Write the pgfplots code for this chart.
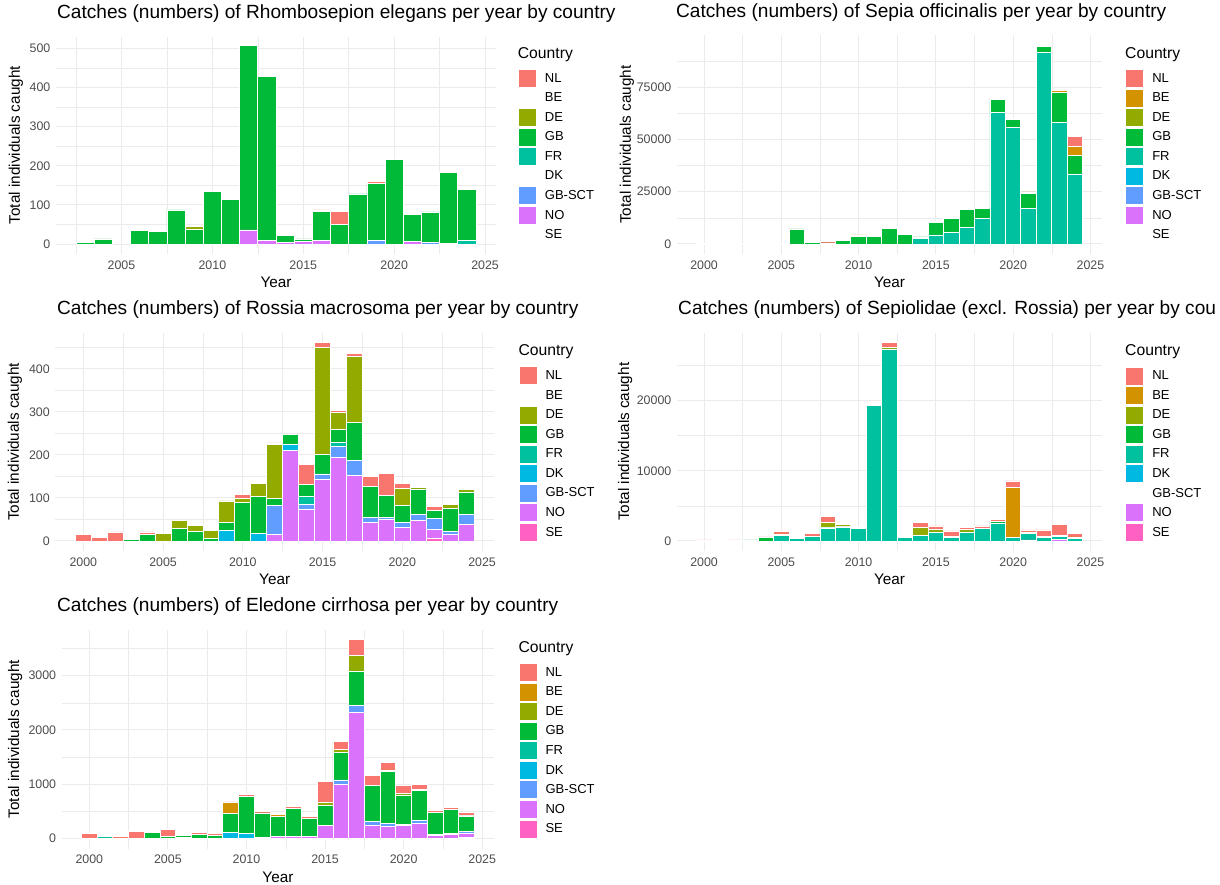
\documentclass[border=0pt]{standalone}
\usepackage{pgfplots}
\usepackage{pgfplotstable}
\pgfplotsset{compat=1.18}
\usepackage{fontspec}
\setmainfont{Liberation Sans}
\newcommand\fs[1]{\fontsize{#1}{#1}\selectfont}
\definecolor{cNL}{HTML}{F8766D}
\definecolor{cBE}{HTML}{D39200}
\definecolor{cDE}{HTML}{93AA00}
\definecolor{cGB}{HTML}{00BA38}
\definecolor{cFR}{HTML}{00C19F}
\definecolor{cDK}{HTML}{00B9E3}
\definecolor{cGS}{HTML}{619CFF}
\definecolor{cNO}{HTML}{DB72FB}
\definecolor{cSE}{HTML}{FF61C3}
\definecolor{gridc}{HTML}{EBEBEB}
\definecolor{tickc}{HTML}{4D4D4D}
\newcommand\allkeys{\colorlet{kNL}{cNL}\colorlet{kBE}{cBE}\colorlet{kDE}{cDE}\colorlet{kGB}{cGB}\colorlet{kFR}{cFR}\colorlet{kDK}{cDK}\colorlet{kGS}{cGS}\colorlet{kNO}{cNO}\colorlet{kSE}{cSE}}

\pgfplotstableread{
year NL BE DE GB FR DK GBSCT NO SE
2003 0 0 0 4 0 0 0 0 0
2004 0 0 0 13 0 0 0 0 0
2005 0 0 0 0 0 0 0 0 0
2006 0 0 0 35 0 0 0 0 0
2007 0 0 0 32 0 0 0 0 0
2008 0 0 2 87 0 0 0 0 0
2009 0 0 7 38 0 0 0 0 0
2010 0 0 0 134 0 0 0 0 0
2011 0 0 0 113 0 0 0 0 0
2012 0 0 0 471 0 0 0 36 0
2013 0 0 0 419 0 0 0 9 0
2014 0 0 0 20 0 0 0 3 0
2015 0 0 0 7 0 0 0 6 0
2016 3 0 0 76 0 0 0 8 0
2017 35 0 0 49 0 0 0 0 0
2018 0 0 0 128 0 0 0 0 0
2019 5 0 0 146 0 0 8 0 0
2020 0 0 0 215 0 0 0 0 0
2021 0 0 0 70 0 0 0 6 0
2022 0 0 0 77 0 0 5 0 0
2023 0 0 0 180 0 0 2 0 0
2024 0 0 0 130 10 0 0 0 0
}\tA

\pgfplotstableread{
year NL BE DE GB FR DK GBSCT NO SE
2000 300 0 0 0 0 0 0 0 0
2001 300 0 0 0 0 0 0 0 0
2002 300 0 0 0 0 0 0 0 0
2003 300 0 0 0 0 0 0 0 0
2004 0 0 0 0 250 0 0 0 0
2005 0 0 0 0 250 0 0 0 0
2006 0 0 0 7200 0 0 0 0 0
2007 300 0 0 800 0 0 0 0 0
2008 700 0 0 500 0 0 0 0 0
2009 0 0 0 1750 0 0 0 0 0
2010 0 800 0 3500 0 0 0 0 0
2011 0 0 0 3500 0 0 0 0 0
2012 0 600 0 7300 0 0 0 0 0
2013 0 600 0 4350 0 0 0 0 0
2014 0 0 0 850 2500 0 0 0 0
2015 0 300 0 6100 4300 0 0 0 0
2016 0 0 0 6600 5400 0 0 0 0
2017 0 0 0 8500 7800 0 0 0 0
2018 0 0 0 4800 12300 0 0 0 0
2019 0 500 0 6350 62900 0 0 0 0
2020 0 600 0 3700 55700 0 0 0 0
2021 0 600 0 7400 16900 0 0 0 0
2022 0 600 0 2700 91800 0 0 0 0
2023 0 900 0 14400 58100 0 0 0 0
2024 4800 4300 0 8800 33500 0 0 0 0
}\tB

\pgfplotstableread{
year NL BE DE GB FR DK GBSCT NO SE
2000 15 0 0 0 0 0 0 0 0
2001 9 0 0 0 0 0 0 0 0
2002 21 0 0 0 0 0 0 0 0
2003 3 0 0 3 0 0 0 0 0
2004 5 0 0 16 0 0 0 0 0
2005 0 0 17 0 0 0 0 0 0
2006 0 0 18 29 0 0 0 0 0
2007 0 0 14 22 0 0 0 0 0
2008 2 0 19 5 0 0 0 0 0
2009 0 0 50 18 0 25 0 0 0
2010 11 0 8 90 0 0 0 0 0
2011 0 0 30 86 0 18 0 0 0
2012 4 0 126 15 0 0 68 15 0
2013 0 0 0 22 0 14 0 211 0
2014 47 0 0 27 20 0 10 74 0
2015 12 0 248 46 0 0 12 144 0
2016 6 0 38 31 9 0 26 194 0
2017 8 0 154 88 0 0 35 152 0
2018 23 0 0 72 0 0 12 43 0
2019 51 0 0 51 0 0 5 50 0
2020 11 0 39 39 0 0 13 31 0
2021 0 0 4 59 0 0 15 47 0
2022 8 0 0 19 0 0 26 21 6
2023 0 0 9 53 0 0 6 16 0
2024 0 0 5 52 0 0 24 38 0
}\tC

\pgfplotstableread{
year NL BE DE GB FR DK GBSCT NO SE
2000 150 0 0 0 0 0 0 0 0
2001 0 0 0 0 0 0 0 0 100
2002 100 0 0 0 0 0 0 0 50
2003 100 0 0 150 0 0 0 0 0
2004 100 0 0 470 0 0 0 0 0
2005 300 0 150 0 850 0 0 0 0
2006 0 200 0 0 350 0 0 0 0
2007 450 0 0 0 650 0 0 0 0
2008 800 0 700 100 1850 0 0 0 0
2009 0 0 250 100 2000 0 0 0 0
2010 0 150 150 0 1750 0 0 0 0
2011 150 0 0 0 19350 0 0 0 0
2012 710 0 190 0 27360 0 0 0 0
2013 0 200 0 0 500 0 0 0 0
2014 760 0 1100 0 800 0 0 0 0
2015 480 0 380 0 1280 0 0 0 0
2016 800 0 150 0 480 0 0 0 0
2017 290 0 380 0 1280 0 0 0 0
2018 330 0 0 50 1760 0 0 0 0
2019 330 0 0 190 2570 0 0 0 0
2020 900 7130 0 0 520 0 0 0 0
2021 285 190 0 0 950 0 0 0 140
2022 950 140 0 0 480 0 0 0 0
2023 1570 0 0 140 330 0 0 290 0
2024 520 240 0 0 330 0 0 0 0
}\tD

\pgfplotstableread{
year NL BE DE GB FR DK GBSCT NO SE
2000 100 0 0 0 0 0 0 0 0
2001 12 0 0 0 43 0 0 0 0
2002 37 0 0 0 0 0 0 0 0
2003 129 0 0 0 0 0 0 0 0
2004 12 0 0 110 0 0 0 0 0
2005 140 0 0 37 0 0 0 0 0
2006 25 0 0 30 0 0 0 25 0
2007 43 0 0 74 0 0 0 0 0
2008 43 0 0 61 0 0 0 0 0
2009 12 196 0 350 0 117 0 0 0
2010 43 0 0 670 0 104 0 0 0
2011 25 0 0 455 0 18 0 0 0
2012 25 40 0 370 0 0 0 37 0
2013 37 0 0 515 0 0 0 43 0
2014 30 0 0 337 0 0 0 37 0
2015 374 0 67 368 0 0 0 240 0
2016 141 0 55 509 0 0 74 1006 0
2017 282 0 294 638 0 0 129 2319 0
2018 184 0 0 663 0 0 67 252 0
2019 135 0 25 951 0 0 61 227 0
2020 141 0 31 540 0 0 25 239 0
2021 86 0 25 552 0 0 49 282 0
2022 37 0 0 405 0 0 18 55 0
2023 31 0 0 448 0 0 18 74 0
2024 55 0 12 288 0 0 31 74 25
}\tE

\pgfplotsset{
  /pgf/number format/assume math mode=true,
  /pgf/number format/1000 sep={},
  sq/.style={legend image code/.code={\fill[##1] (0pt,-9pt) rectangle (18pt,9pt); \path (0pt,-9.375pt) (25.5pt,9.375pt);}},
  panel/.style={
    scale only axis, anchor=south west, clip=false,
    ybar stacked, bar width=1,
    axis line style={draw=none}, tick style={draw=none},
    grid=both,
    major grid style={gridc, line width=1pt},
    minor grid style={gridc, line width=0.5pt},
    scaled y ticks=false,
    xticklabel style={font=\fs{12.4}, color=tickc, inner sep=0pt, yshift=-6.5pt},
    yticklabel style={font=\fs{12.4}, color=tickc, inner sep=0pt, xshift=-5.5pt},
    xlabel={Year}, ylabel={Total individuals caught},
    label style={font=\fs{15.3}},
    xlabel style={at={(axis description cs:0.5,0)}, anchor=north, inner sep=0pt, yshift=-23pt},
    ylabel style={anchor=center, inner sep=0pt},
    title style={font=\fs{19.1}, at={(axis description cs:0,1)}, anchor=base west, inner sep=0pt, yshift=12pt},
    legend cell align=left, reverse legend,
    legend style={at={(axis description cs:1,1)}, anchor=north west, draw=none, fill=none,
      inner sep=0pt, row sep=0pt, font=\fs{13}, nodes={inner sep=0.75pt}},
    every axis plot/.append style={draw=white, line width=0.8pt},
  }
}
\tikzset{country/.style={anchor=west, inner sep=0pt, font=\fs{15.7}}}

\newcommand\stk[1]{%
 \addplot[fill=kSE, sq] table[x=year,y=SE]{#1}; \addlegendentry{SE}
 \addplot[fill=kNO, sq] table[x=year,y=NO]{#1}; \addlegendentry{NO}
 \addplot[fill=kGS, sq] table[x=year,y=GBSCT]{#1}; \addlegendentry{GB-SCT}
 \addplot[fill=kDK, sq] table[x=year,y=DK]{#1}; \addlegendentry{DK}
 \addplot[fill=kFR, sq] table[x=year,y=FR]{#1}; \addlegendentry{FR}
 \addplot[fill=kGB, sq] table[x=year,y=GB]{#1}; \addlegendentry{GB}
 \addplot[fill=kDE, sq] table[x=year,y=DE]{#1}; \addlegendentry{DE}
 \addplot[fill=kBE, sq] table[x=year,y=BE]{#1}; \addlegendentry{BE}
 \addplot[fill=kNL, sq] table[x=year,y=NL]{#1}; \addlegendentry{NL}
}

\begin{document}
\begin{tikzpicture}
\useasboundingbox (0pt,0pt) rectangle (1220pt,884pt);
% Panel 1
\allkeys\colorlet{kBE}{white}\colorlet{kDK}{white}\colorlet{kSE}{white}
\begin{axis}[panel, at={(56pt,630.2pt)}, width=440pt, height=217.2pt,
  xmin=2001.4, xmax=2025.6, ymin=-25, ymax=530,
  xtick={2005,2010,2015,2020,2025}, minor xtick={2002.5,2007.5,2012.5,2017.5,2022.5},
  ytick={0,100,200,300,400,500}, minor ytick={50,150,250,350,450},
  title={Catches (numbers) of Rhombosepion elegans per year by country}, title style={xshift=1pt},
  ylabel style={at={(axis description cs:-0.0909,0.5)}},
  legend style={xshift=21.7pt, yshift=-31.95pt}]
\stk{\tA}
\node[country, xshift=21.7pt, yshift=-17.9pt] at (rel axis cs:1,1) {Country};
\end{axis}
% Panel 2
\allkeys\colorlet{kSE}{white}
\begin{axis}[panel, at={(677pt,630.1pt)}, width=425pt, height=218.6pt,
  xmin=1998.25, xmax=2025.75, ymin=-4755, ymax=99855,
  xtick={2000,2005,2010,2015,2020,2025}, minor xtick={2002.5,2007.5,2012.5,2017.5,2022.5},
  ytick={0,25000,50000,75000}, minor ytick={12500,37500,62500,87500},
  title={Catches (numbers) of Sepia officinalis per year by country}, title style={xshift=-1pt},
  ylabel style={at={(axis description cs:-0.1176,0.5)}},
  legend style={xshift=23pt, yshift=-33.15pt}]
\stk{\tB}
\node[country, xshift=23pt, yshift=-18.9pt] at (rel axis cs:1,1) {Country};
\end{axis}
% Panel 3
\allkeys\colorlet{kBE}{white}
\begin{axis}[panel, at={(55.4pt,333.1pt)}, width=438.6pt, height=218.05pt,
  xmin=1998.25, xmax=2025.75, ymin=-23.05, ymax=484.05,
  xtick={2000,2005,2010,2015,2020,2025}, minor xtick={2002.5,2007.5,2012.5,2017.5,2022.5},
  ytick={0,100,200,300,400}, minor ytick={50,150,250,350,450},
  title={Catches (numbers) of Rossia macrosoma per year by country}, title style={xshift=1.6pt},
  ylabel style={at={(axis description cs:-0.0921,0.5)}},
  legend style={xshift=24.3pt, yshift=-33.05pt}]
\stk{\tC}
\node[country, xshift=24.3pt, yshift=-18.8pt] at (rel axis cs:1,1) {Country};
\end{axis}
% Panel 4
\allkeys\colorlet{kGS}{white}
\begin{axis}[panel, at={(677pt,333.1pt)}, width=425pt, height=218.2pt,
  xmin=1998.25, xmax=2025.75, ymin=-1413, ymax=29673,
  xtick={2000,2005,2010,2015,2020,2025}, minor xtick={2002.5,2007.5,2012.5,2017.5,2022.5},
  ytick={0,10000,20000}, minor ytick={5000,15000,25000},
  title={Catches (numbers) of Sepiolidae (excl. Rossia) per year by cou}, title style={xshift=1pt},
  ylabel style={at={(axis description cs:-0.122,0.5)}},
  legend style={xshift=23pt, yshift=-33.25pt}]
\stk{\tD}
\node[country, xshift=23pt, yshift=-19pt] at (rel axis cs:1,1) {Country};
\end{axis}
% Panel 5
\allkeys
\begin{axis}[panel, at={(61.8pt,35.4pt)}, width=432.2pt, height=218.9pt,
  xmin=1998.25, xmax=2025.75, ymin=-183, ymax=3846,
  xtick={2000,2005,2010,2015,2020,2025}, minor xtick={2002.5,2007.5,2012.5,2017.5,2022.5},
  ytick={0,1000,2000,3000}, minor ytick={500,1500,2500,3500},
  title={Catches (numbers) of Eledone cirrhosa per year by country}, title style={xshift=-4.8pt},
  ylabel style={at={(axis description cs:-0.108,0.5)}},
  legend style={xshift=24.3pt, yshift=-32.85pt}]
\stk{\tE}
\node[country, xshift=24.3pt, yshift=-18.6pt] at (rel axis cs:1,1) {Country};
\end{axis}
\end{tikzpicture}
\end{document}
